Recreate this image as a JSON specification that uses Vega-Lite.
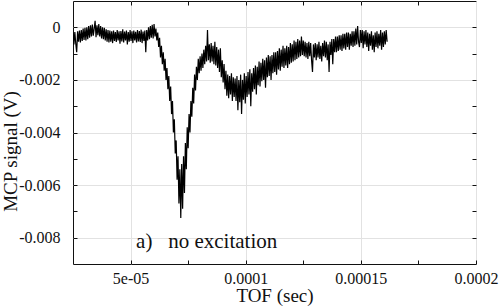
{
 "$schema": "https://vega.github.io/schema/vega-lite/v6.json",
 "width": 403,
 "height": 263,
 "autosize": {"type": "none"},
 "padding": {"left": 73, "top": 1, "right": 24, "bottom": 43},
 "background": "white",
 "config": {"font": "Liberation Serif", "view": {"stroke": "#111", "strokeWidth": 1},
  "axis": {"labelFont": "Liberation Serif", "titleFont": "Liberation Serif"},
  "text": {"font": "Liberation Serif"}},
 "datasets": {
  "trace": [
{"t":25.0e-6,"v":-0.20e-3},{"t":25.4e-6,"v":-0.65e-3},{"t":25.8e-6,"v":-0.18e-3},{"t":26.2e-6,"v":-0.62e-3},{"t":26.6e-6,"v":-0.95e-3},{"t":27.0e-6,"v":-0.15e-3},{"t":27.4e-6,"v":-0.55e-3},{"t":27.8e-6,"v":-0.12e-3},{"t":28.2e-6,"v":-0.58e-3},{"t":28.6e-6,"v":-0.10e-3},
{"t":29.0e-6,"v":-0.52e-3},{"t":29.4e-6,"v":-0.05e-3},{"t":29.8e-6,"v":-0.48e-3},{"t":30.2e-6,"v":-0.02e-3},{"t":30.6e-6,"v":-0.50e-3},{"t":31.0e-6,"v":0.00e-3},{"t":31.4e-6,"v":-0.45e-3},{"t":31.8e-6,"v":0.05e-3},{"t":32.2e-6,"v":-0.40e-3},{"t":32.6e-6,"v":0.08e-3},
{"t":33.0e-6,"v":-0.35e-3},{"t":33.4e-6,"v":0.10e-3},{"t":33.8e-6,"v":-0.32e-3},{"t":34.2e-6,"v":-0.05e-3},{"t":34.6e-6,"v":0.25e-3},{"t":35.0e-6,"v":-0.38e-3},{"t":35.4e-6,"v":0.08e-3},{"t":35.8e-6,"v":-0.30e-3},{"t":36.2e-6,"v":0.12e-3},{"t":36.6e-6,"v":-0.35e-3},
{"t":37.0e-6,"v":0.05e-3},{"t":37.4e-6,"v":-0.42e-3},{"t":37.8e-6,"v":0.00e-3},{"t":38.2e-6,"v":-0.45e-3},{"t":38.6e-6,"v":-0.02e-3},{"t":39.0e-6,"v":-0.50e-3},{"t":39.4e-6,"v":-0.08e-3},{"t":39.8e-6,"v":-0.55e-3},{"t":40.2e-6,"v":-0.10e-3},{"t":40.6e-6,"v":-0.58e-3},
{"t":41.0e-6,"v":-0.12e-3},{"t":41.4e-6,"v":-0.55e-3},{"t":41.8e-6,"v":-0.15e-3},{"t":42.2e-6,"v":-0.60e-3},{"t":42.6e-6,"v":-0.12e-3},{"t":43.0e-6,"v":-0.52e-3},{"t":43.4e-6,"v":-0.18e-3},{"t":43.8e-6,"v":-0.56e-3},{"t":44.2e-6,"v":-0.10e-3},{"t":44.6e-6,"v":-0.50e-3},
{"t":45.0e-6,"v":-0.15e-3},{"t":45.4e-6,"v":-0.62e-3},{"t":45.8e-6,"v":-0.14e-3},{"t":46.2e-6,"v":-0.54e-3},{"t":46.6e-6,"v":-0.08e-3},{"t":47.0e-6,"v":-0.58e-3},{"t":47.4e-6,"v":-0.16e-3},{"t":47.8e-6,"v":-0.50e-3},{"t":48.2e-6,"v":-0.12e-3},{"t":48.6e-6,"v":-0.65e-3},
{"t":49.0e-6,"v":-0.18e-3},{"t":49.4e-6,"v":-0.55e-3},{"t":49.8e-6,"v":-0.10e-3},{"t":50.2e-6,"v":-0.52e-3},{"t":50.6e-6,"v":-0.15e-3},{"t":51.0e-6,"v":-0.60e-3},{"t":51.4e-6,"v":-0.12e-3},{"t":51.8e-6,"v":-0.50e-3},{"t":52.2e-6,"v":-0.17e-3},{"t":52.6e-6,"v":-0.58e-3},
{"t":53.0e-6,"v":-0.10e-3},{"t":53.4e-6,"v":-0.54e-3},{"t":53.8e-6,"v":-0.14e-3},{"t":54.2e-6,"v":-0.56e-3},{"t":54.6e-6,"v":-0.09e-3},{"t":55.0e-6,"v":-0.60e-3},{"t":55.4e-6,"v":-0.16e-3},{"t":55.8e-6,"v":-0.52e-3},{"t":56.2e-6,"v":-0.12e-3},{"t":56.6e-6,"v":-0.95e-3},
{"t":57.0e-6,"v":-0.10e-3},{"t":57.4e-6,"v":-0.50e-3},{"t":57.8e-6,"v":0.00e-3},{"t":58.2e-6,"v":-0.45e-3},{"t":58.6e-6,"v":0.05e-3},{"t":59.0e-6,"v":-0.40e-3},{"t":59.4e-6,"v":0.10e-3},{"t":59.8e-6,"v":-0.42e-3},{"t":60.2e-6,"v":0.12e-3},{"t":60.6e-6,"v":-0.35e-3},
{"t":61.0e-6,"v":-0.05e-3},{"t":61.4e-6,"v":-0.50e-3},
{"t":61.8e-6,"v":-0.20e-3},{"t":62.2e-6,"v":-0.75e-3},{"t":62.6e-6,"v":-0.40e-3},{"t":63.0e-6,"v":-1.15e-3},{"t":63.4e-6,"v":-0.70e-3},{"t":63.8e-6,"v":-1.40e-3},{"t":64.2e-6,"v":-0.95e-3},{"t":64.6e-6,"v":-1.65e-3},{"t":65.0e-6,"v":-1.20e-3},{"t":65.4e-6,"v":-2.00e-3},
{"t":65.8e-6,"v":-1.55e-3},{"t":66.2e-6,"v":-2.35e-3},{"t":66.6e-6,"v":-1.85e-3},{"t":67.0e-6,"v":-2.80e-3},{"t":67.4e-6,"v":-2.25e-3},{"t":67.8e-6,"v":-3.30e-3},{"t":68.2e-6,"v":-2.80e-3},{"t":68.6e-6,"v":-4.00e-3},{"t":69.0e-6,"v":-3.50e-3},{"t":69.4e-6,"v":-4.80e-3},
{"t":69.8e-6,"v":-4.30e-3},{"t":70.2e-6,"v":-5.80e-3},{"t":70.6e-6,"v":-4.90e-3},{"t":71.0e-6,"v":-6.70e-3},{"t":71.4e-6,"v":-5.40e-3},{"t":71.8e-6,"v":-7.25e-3},{"t":72.2e-6,"v":-5.20e-3},{"t":72.6e-6,"v":-6.90e-3},{"t":73.0e-6,"v":-4.90e-3},{"t":73.4e-6,"v":-6.30e-3},
{"t":73.8e-6,"v":-4.40e-3},{"t":74.2e-6,"v":-5.40e-3},{"t":74.6e-6,"v":-3.80e-3},{"t":75.0e-6,"v":-4.60e-3},{"t":75.4e-6,"v":-3.30e-3},{"t":75.8e-6,"v":-4.00e-3},{"t":76.2e-6,"v":-2.80e-3},{"t":76.6e-6,"v":-3.40e-3},{"t":77.0e-6,"v":-2.30e-3},{"t":77.4e-6,"v":-2.90e-3},
{"t":77.8e-6,"v":-1.80e-3},{"t":78.2e-6,"v":-2.40e-3},{"t":78.6e-6,"v":-1.50e-3},{"t":79.0e-6,"v":-2.00e-3},{"t":79.4e-6,"v":-1.20e-3},{"t":79.8e-6,"v":-1.75e-3},{"t":80.2e-6,"v":-1.10e-3},
{"t":80.6e-6,"v":-1.65e-3},{"t":81.0e-6,"v":-1.00e-3},{"t":81.4e-6,"v":-1.55e-3},{"t":81.8e-6,"v":-0.85e-3},{"t":82.2e-6,"v":-1.40e-3},{"t":82.6e-6,"v":-0.70e-3},{"t":83.0e-6,"v":-1.30e-3},{"t":83.4e-6,"v":-0.10e-3},{"t":83.8e-6,"v":-1.25e-3},{"t":84.2e-6,"v":-0.65e-3},
{"t":84.6e-6,"v":-1.35e-3},{"t":85.0e-6,"v":-0.60e-3},{"t":85.4e-6,"v":-1.30e-3},{"t":85.8e-6,"v":-0.70e-3},{"t":86.2e-6,"v":-1.40e-3},{"t":86.6e-6,"v":-0.55e-3},{"t":87.0e-6,"v":-1.45e-3},{"t":87.4e-6,"v":-0.75e-3},{"t":87.8e-6,"v":-1.55e-3},{"t":88.2e-6,"v":-0.85e-3},
{"t":88.6e-6,"v":-1.70e-3},{"t":89.0e-6,"v":-0.80e-3},{"t":89.4e-6,"v":-1.90e-3},{"t":89.8e-6,"v":-1.25e-3},{"t":90.2e-6,"v":-2.10e-3},{"t":90.6e-6,"v":-1.40e-3},{"t":91.0e-6,"v":-2.35e-3},{"t":91.4e-6,"v":-1.65e-3},{"t":91.8e-6,"v":-2.60e-3},{"t":92.2e-6,"v":-1.80e-3},
{"t":92.6e-6,"v":-2.70e-3},{"t":93.0e-6,"v":-1.85e-3},{"t":93.4e-6,"v":-2.55e-3},{"t":93.8e-6,"v":-1.75e-3},{"t":94.2e-6,"v":-2.80e-3},{"t":94.6e-6,"v":-1.90e-3},{"t":95.0e-6,"v":-2.65e-3},
{"t":95.4e-6,"v":-1.95e-3},{"t":95.8e-6,"v":-2.80e-3},{"t":96.2e-6,"v":-1.85e-3},{"t":96.6e-6,"v":-3.15e-3},{"t":97.0e-6,"v":-2.00e-3},{"t":97.4e-6,"v":-2.85e-3},{"t":97.8e-6,"v":-1.80e-3},{"t":98.2e-6,"v":-3.30e-3},{"t":98.6e-6,"v":-2.00e-3},{"t":99.0e-6,"v":-2.75e-3},
{"t":99.4e-6,"v":-1.75e-3},{"t":99.8e-6,"v":-2.90e-3},{"t":100.2e-6,"v":-1.85e-3},{"t":100.6e-6,"v":-2.65e-3},{"t":101.0e-6,"v":-1.70e-3},{"t":101.4e-6,"v":-2.55e-3},{"t":101.8e-6,"v":-1.60e-3},{"t":102.2e-6,"v":-3.00e-3},{"t":102.6e-6,"v":-1.75e-3},{"t":103.0e-6,"v":-2.45e-3},
{"t":103.4e-6,"v":-1.55e-3},{"t":103.8e-6,"v":-2.35e-3},{"t":104.2e-6,"v":-1.45e-3},{"t":104.6e-6,"v":-2.55e-3},{"t":105.0e-6,"v":-1.50e-3},{"t":105.4e-6,"v":-2.20e-3},{"t":105.8e-6,"v":-1.30e-3},{"t":106.2e-6,"v":-2.25e-3},{"t":106.6e-6,"v":-1.35e-3},{"t":107.0e-6,"v":-2.05e-3},
{"t":107.4e-6,"v":-1.20e-3},{"t":107.8e-6,"v":-2.00e-3},{"t":108.2e-6,"v":-1.25e-3},{"t":108.6e-6,"v":-2.30e-3},{"t":109.0e-6,"v":-1.15e-3},{"t":109.4e-6,"v":-1.90e-3},{"t":109.8e-6,"v":-1.05e-3},{"t":110.2e-6,"v":-1.85e-3},{"t":110.6e-6,"v":-1.10e-3},{"t":111.0e-6,"v":-2.00e-3},
{"t":111.4e-6,"v":-1.05e-3},{"t":111.8e-6,"v":-1.75e-3},{"t":112.2e-6,"v":-0.95e-3},{"t":112.6e-6,"v":-1.70e-3},{"t":113.0e-6,"v":-0.95e-3},{"t":113.4e-6,"v":-1.80e-3},{"t":113.8e-6,"v":-0.90e-3},{"t":114.2e-6,"v":-1.60e-3},{"t":114.6e-6,"v":-0.80e-3},{"t":115.0e-6,"v":-1.65e-3},
{"t":115.4e-6,"v":-0.85e-3},{"t":115.8e-6,"v":-1.50e-3},{"t":116.2e-6,"v":-0.70e-3},{"t":116.6e-6,"v":-1.55e-3},{"t":117.0e-6,"v":-0.80e-3},{"t":117.4e-6,"v":-1.45e-3},{"t":117.8e-6,"v":-0.70e-3},{"t":118.2e-6,"v":-1.55e-3},{"t":118.6e-6,"v":-0.75e-3},{"t":119.0e-6,"v":-1.40e-3},
{"t":119.4e-6,"v":-0.60e-3},{"t":119.8e-6,"v":-1.35e-3},{"t":120.2e-6,"v":-0.65e-3},{"t":120.6e-6,"v":-1.30e-3},{"t":121.0e-6,"v":-0.50e-3},{"t":121.4e-6,"v":-1.25e-3},{"t":121.8e-6,"v":-0.55e-3},{"t":122.2e-6,"v":-1.20e-3},{"t":122.6e-6,"v":-0.45e-3},{"t":123.0e-6,"v":-1.15e-3},
{"t":123.4e-6,"v":-0.50e-3},{"t":123.8e-6,"v":-1.10e-3},{"t":124.2e-6,"v":-0.35e-3},{"t":124.6e-6,"v":-1.05e-3},{"t":125.0e-6,"v":-0.50e-3},
{"t":125.4e-6,"v":-1.10e-3},{"t":125.8e-6,"v":-0.55e-3},{"t":126.2e-6,"v":-1.15e-3},{"t":126.6e-6,"v":-0.60e-3},{"t":127.0e-6,"v":-1.20e-3},{"t":127.4e-6,"v":-0.55e-3},{"t":127.8e-6,"v":-1.10e-3},{"t":128.2e-6,"v":-0.60e-3},{"t":128.6e-6,"v":-1.25e-3},{"t":129.0e-6,"v":-1.70e-3},
{"t":129.4e-6,"v":-0.65e-3},{"t":129.8e-6,"v":-1.15e-3},{"t":130.2e-6,"v":-0.60e-3},{"t":130.6e-6,"v":-1.25e-3},{"t":131.0e-6,"v":-0.65e-3},{"t":131.4e-6,"v":-1.15e-3},{"t":131.8e-6,"v":-0.55e-3},{"t":132.2e-6,"v":-1.20e-3},{"t":132.6e-6,"v":-0.70e-3},{"t":133.0e-6,"v":-1.30e-3},
{"t":133.4e-6,"v":-0.60e-3},{"t":133.8e-6,"v":-1.10e-3},{"t":134.2e-6,"v":-0.50e-3},{"t":134.6e-6,"v":-1.15e-3},{"t":135.0e-6,"v":-0.55e-3},{"t":135.4e-6,"v":-1.25e-3},{"t":135.8e-6,"v":-0.65e-3},{"t":136.2e-6,"v":-1.70e-3},{"t":136.6e-6,"v":-0.55e-3},{"t":137.0e-6,"v":-1.05e-3},
{"t":137.4e-6,"v":-0.45e-3},{"t":137.8e-6,"v":-1.40e-3},{"t":138.2e-6,"v":-0.45e-3},{"t":138.6e-6,"v":-0.95e-3},{"t":139.0e-6,"v":-0.35e-3},{"t":139.4e-6,"v":-0.95e-3},{"t":139.8e-6,"v":-0.35e-3},{"t":140.2e-6,"v":-0.90e-3},{"t":140.6e-6,"v":-0.30e-3},{"t":141.0e-6,"v":-0.85e-3},
{"t":141.4e-6,"v":-0.30e-3},{"t":141.8e-6,"v":-0.90e-3},{"t":142.2e-6,"v":-0.25e-3},{"t":142.6e-6,"v":-0.80e-3},{"t":143.0e-6,"v":-0.25e-3},{"t":143.4e-6,"v":-0.85e-3},{"t":143.8e-6,"v":-0.20e-3},{"t":144.2e-6,"v":-0.75e-3},{"t":144.6e-6,"v":-0.20e-3},{"t":145.0e-6,"v":-0.85e-3},
{"t":145.4e-6,"v":-0.25e-3},{"t":145.8e-6,"v":-0.70e-3},{"t":146.2e-6,"v":-0.15e-3},{"t":146.6e-6,"v":-0.75e-3},{"t":147.0e-6,"v":-0.15e-3},{"t":147.4e-6,"v":-0.70e-3},{"t":147.8e-6,"v":-0.05e-3},{"t":148.2e-6,"v":-0.65e-3},{"t":148.6e-6,"v":0.05e-3},{"t":149.0e-6,"v":-0.55e-3},
{"t":149.4e-6,"v":-0.75e-3},{"t":149.8e-6,"v":-0.10e-3},{"t":150.2e-6,"v":-0.60e-3},{"t":150.6e-6,"v":-0.10e-3},{"t":151.0e-6,"v":-0.80e-3},{"t":151.4e-6,"v":-0.15e-3},{"t":151.8e-6,"v":-0.65e-3},{"t":152.2e-6,"v":-0.10e-3},{"t":152.6e-6,"v":-0.75e-3},{"t":153.0e-6,"v":-0.20e-3},
{"t":153.4e-6,"v":-0.90e-3},{"t":153.8e-6,"v":-0.25e-3},{"t":154.2e-6,"v":-0.70e-3},{"t":154.6e-6,"v":-0.15e-3},{"t":155.0e-6,"v":-0.85e-3},{"t":155.4e-6,"v":-0.30e-3},{"t":155.8e-6,"v":-0.95e-3},{"t":156.2e-6,"v":-0.20e-3},{"t":156.6e-6,"v":-0.75e-3},{"t":157.0e-6,"v":-0.15e-3},
{"t":157.4e-6,"v":-0.80e-3},{"t":157.8e-6,"v":-0.25e-3},{"t":158.2e-6,"v":-0.70e-3},{"t":158.6e-6,"v":-0.10e-3},{"t":159.0e-6,"v":-0.85e-3},{"t":159.4e-6,"v":-0.20e-3},{"t":159.8e-6,"v":-0.75e-3},{"t":160.2e-6,"v":-0.15e-3},{"t":160.6e-6,"v":-0.65e-3},{"t":161.0e-6,"v":-0.10e-3},
{"t":161.4e-6,"v":-0.55e-3}
  ],
  "note": [{"t": 5.24e-5, "v": -0.00838, "label": "a)\u00a0\u00a0\u00a0no excitation"}]
 },
 "layer": [
  {
   "data": {"name": "trace"},
   "mark": {"type": "line", "color": "#000000", "strokeWidth": 1.2, "clip": true},
   "encoding": {
    "x": {"field": "t", "type": "quantitative",
     "scale": {"domain": [0.000025, 0.0002], "nice": false, "zero": false},
     "axis": {"orient": "bottom",
      "values": [0.00005, 0.000075, 0.0001, 0.000125, 0.00015, 0.000175, 0.0002],
      "labelExpr": "abs(datum.value-0.00005)<0.000000001 ? '5e-05' : abs(datum.value-0.0001)<0.000000001 ? '0.0001' : abs(datum.value-0.00015)<0.000000001 ? '0.00015' : abs(datum.value-0.0002)<0.000000001 ? '0.0002' : ''",
      "domain": false, "grid": true, "gridColor": "#e2e2e2",
      "gridOpacity": {"condition": {"test": "abs(datum.value/0.00005 - round(datum.value/0.00005)) > 0.1", "value": 0}, "value": 1},
      "tickSize": -4, "tickColor": "#111111",
      "labelFont": "Liberation Serif", "labelFontSize": 16, "labelColor": "#111111", "labelPadding": 23, "labelBaseline": "alphabetic",
      "labelFlush": false, "labelOverlap": false,
      "title": "TOF (sec)", "titleFont": "Liberation Serif", "titleFontSize": 19, "titleFontWeight": "normal", "titleColor": "#111111",
      "titleBaseline": "alphabetic", "titleY": 37}},
    "y": {"field": "v", "type": "quantitative",
     "scale": {"domain": [-0.009, 0.001], "nice": false, "zero": false},
     "axis": {"orient": "left",
      "values": [0, -0.001, -0.002, -0.003, -0.004, -0.005, -0.006, -0.007, -0.008],
      "labelExpr": "round(datum.value*1000)==0 ? '0' : (round(datum.value*1000)%2==0 ? '-0.00' + (-round(datum.value*1000)) : '')",
      "domain": false, "grid": true, "gridColor": "#e2e2e2",
      "gridOpacity": {"condition": {"test": "round(datum.value*1000)%2 != 0", "value": 0}, "value": 1},
      "tickSize": -4, "tickColor": "#111111",
      "labelFont": "Liberation Serif", "labelFontSize": 16, "labelColor": "#111111", "labelPadding": 17,
      "labelFlush": false, "labelOverlap": false,
      "title": "MCP signal (V)", "titleFont": "Liberation Serif", "titleFontSize": 19, "titleFontWeight": "normal", "titleColor": "#111111",
      "titleBaseline": "alphabetic", "titleX": -57, "titleY": 150}}
   }
  },
  {
   "data": {"name": "trace"},
   "mark": {"type": "line", "opacity": 0},
   "encoding": {
    "x": {"field": "t", "type": "quantitative",
     "axis": {"orient": "top", "values": [0.00005, 0.000075, 0.0001, 0.000125, 0.00015, 0.000175],
      "labels": false, "domain": false, "grid": false, "tickSize": -4, "tickColor": "#111111", "title": null}},
    "y": {"field": "v", "type": "quantitative",
     "axis": {"orient": "right", "values": [0, -0.001, -0.002, -0.003, -0.004, -0.005, -0.006, -0.007, -0.008],
      "labels": false, "domain": false, "grid": false, "tickSize": -4, "tickColor": "#111111", "title": null}}
   }
  },
  {
   "data": {"name": "note"},
   "mark": {"type": "text", "align": "left", "baseline": "alphabetic", "fontSize": 21, "font": "Liberation Serif", "color": "#111111"},
   "encoding": {
    "x": {"field": "t", "type": "quantitative", "axis": null},
    "y": {"field": "v", "type": "quantitative", "axis": null},
    "text": {"field": "label"}
   }
  }
 ],
 "resolve": {"axis": {"x": "independent", "y": "independent"}}
}
